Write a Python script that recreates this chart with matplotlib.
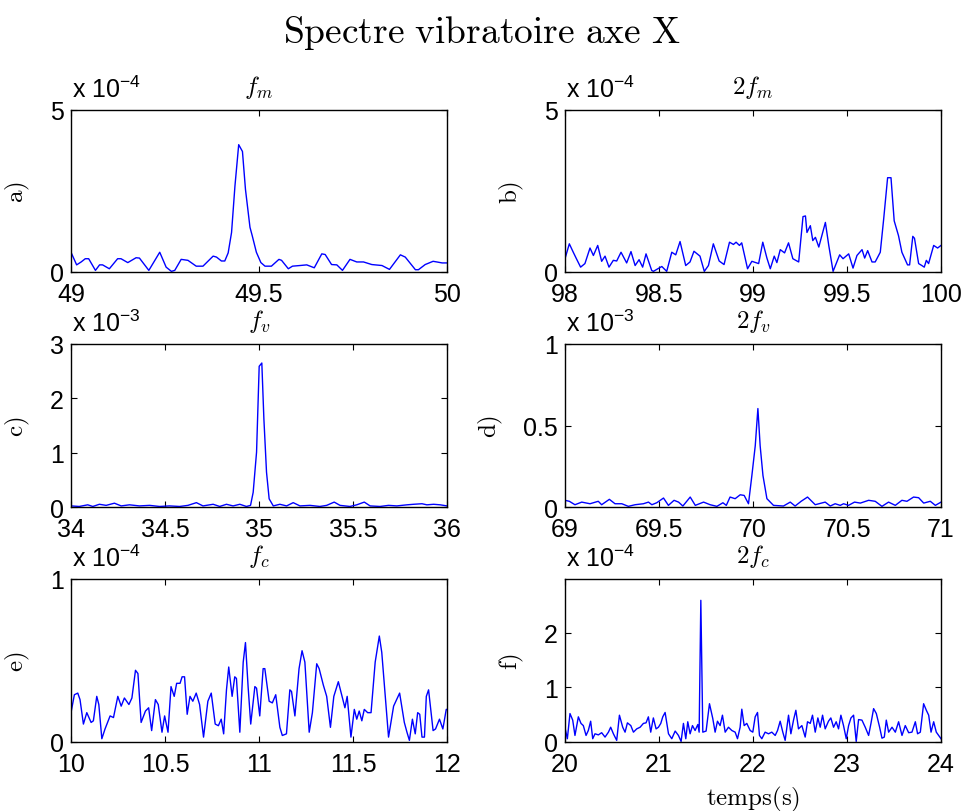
import matplotlib
matplotlib.use("Agg")
import matplotlib.pyplot as plt
from matplotlib.ticker import FormatStrFormatter

plt.rcParams['font.family'] = ['Liberation Sans', 'DejaVu Sans']

# spectrum values (y in units of 10^exp)
a_x = [49.000, 49.015, 49.027, 49.038, 49.047, 49.065, 49.076, 49.084, 49.102, 49.124,
       49.133, 49.151, 49.173, 49.182, 49.207, 49.236, 49.253, 49.267, 49.276, 49.293,
       49.311, 49.333, 49.351, 49.378, 49.387, 49.400, 49.409, 49.418, 49.427, 49.436,
       49.446, 49.456, 49.464, 49.476, 49.482, 49.493, 49.505, 49.516, 49.533, 49.553,
       49.560, 49.578, 49.589, 49.609, 49.627, 49.647, 49.667, 49.676, 49.693, 49.707,
       49.722, 49.742, 49.760, 49.778, 49.800, 49.827, 49.847, 49.876, 49.889, 49.916,
       49.924, 49.942, 49.963, 49.973, 49.987, 50.000]
a_y = [0.61, 0.22, 0.31, 0.41, 0.41, 0.05, 0.22, 0.22, 0.10, 0.41,
       0.41, 0.29, 0.44, 0.43, 0.05, 0.61, 0.15, 0.02, 0.05, 0.39,
       0.36, 0.18, 0.18, 0.49, 0.46, 0.34, 0.34, 0.59, 1.22, 2.65,
       3.93, 3.72, 2.55, 1.38, 1.12, 0.61, 0.29, 0.18, 0.18, 0.39,
       0.36, 0.10, 0.18, 0.20, 0.22, 0.13, 0.56, 0.54, 0.23, 0.22,
       0.05, 0.39, 0.31, 0.31, 0.23, 0.20, 0.08, 0.53, 0.46, 0.07,
       0.07, 0.23, 0.33, 0.31, 0.28, 0.28]

b_x = [98.000, 98.023, 98.044, 98.059, 98.083, 98.106, 98.133, 98.151, 98.174, 98.195,
       98.213, 98.234, 98.257, 98.275, 98.298, 98.328, 98.351, 98.373, 98.394, 98.413,
       98.431, 98.461, 98.470, 98.515, 98.541, 98.568, 98.589, 98.612, 98.642, 98.665,
       98.686, 98.718, 98.741, 98.763, 98.789, 98.820, 98.846, 98.875, 98.896, 98.910,
       98.928, 98.940, 98.971, 98.994, 99.030, 99.052, 99.074, 99.092, 99.113, 99.127,
       99.145, 99.168, 99.189, 99.212, 99.243, 99.266, 99.279, 99.287, 99.305, 99.318,
       99.332, 99.350, 99.385, 99.403, 99.426, 99.461, 99.479, 99.509, 99.532, 99.553,
       99.580, 99.594, 99.610, 99.633, 99.650, 99.677, 99.695, 99.716, 99.734, 99.751,
       99.774, 99.792, 99.822, 99.833, 99.850, 99.859, 99.881, 99.898, 99.911, 99.922,
       99.934, 99.961, 99.982, 100.000]
b_y = [0.41, 0.87, 0.61, 0.43, 0.15, 0.26, 0.74, 0.51, 0.82, 0.33,
       0.49, 0.15, 0.36, 0.34, 0.61, 0.28, 0.63, 0.20, 0.38, 0.15,
       0.56, 0.05, 0.02, 0.17, 0.02, 0.61, 0.53, 0.94, 0.20, 0.31,
       0.64, 0.49, 0.02, 0.20, 0.87, 0.34, 0.23, 0.92, 0.85, 0.92,
       0.82, 0.90, 0.10, 0.33, 0.26, 0.92, 0.43, 0.10, 0.49, 0.29,
       0.69, 0.59, 0.90, 0.41, 0.31, 1.71, 1.73, 1.22, 1.43, 0.97,
       1.07, 0.77, 1.53, 0.82, 0.02, 0.53, 0.41, 0.56, 0.12, 0.51,
       0.69, 0.43, 0.66, 0.31, 0.31, 0.61, 1.63, 2.91, 2.91, 1.58,
       1.12, 0.61, 0.22, 0.22, 1.10, 1.04, 0.26, 0.20, 0.15, 0.36,
       0.26, 0.82, 0.74, 0.82]

c_x = [34.000, 34.044, 34.089, 34.116, 34.151, 34.187, 34.231, 34.267, 34.311, 34.364,
       34.418, 34.471, 34.524, 34.578, 34.622, 34.667, 34.702, 34.756, 34.791, 34.827,
       34.862, 34.898, 34.933, 34.955, 34.969, 34.987, 35.001, 35.015, 35.026, 35.040,
       35.054, 35.076, 35.111, 35.147, 35.182, 35.218, 35.271, 35.324, 35.360, 35.400,
       35.431, 35.484, 35.520, 35.560, 35.591, 35.644, 35.689, 35.733, 35.787, 35.822,
       35.867, 35.893, 35.929, 35.964, 36.000]
c_y = [0.02, 0.01, 0.04, 0.01, 0.05, 0.03, 0.07, 0.02, 0.04, 0.02,
       0.03, 0.01, 0.02, 0.01, 0.03, 0.08, 0.02, 0.05, 0.01, 0.05,
       0.02, 0.05, 0.01, 0.03, 0.27, 1.01, 2.59, 2.65, 1.62, 0.64,
       0.15, 0.02, 0.05, 0.02, 0.08, 0.02, 0.03, 0.01, 0.03, 0.09,
       0.03, 0.01, 0.04, 0.09, 0.02, 0.01, 0.03, 0.02, 0.04, 0.05,
       0.06, 0.04, 0.05, 0.04, 0.02]

d_x = [69.000, 69.023, 69.053, 69.089, 69.133, 69.177, 69.195, 69.236, 69.266, 69.302,
       69.337, 69.373, 69.417, 69.444, 69.462, 69.488, 69.524, 69.550, 69.580, 69.604,
       69.627, 69.666, 69.693, 69.737, 69.772, 69.808, 69.840, 69.858, 69.878, 69.905,
       69.932, 69.953, 69.976, 69.994, 70.012, 70.026, 70.038, 70.053, 70.074, 70.109,
       70.162, 70.198, 70.224, 70.256, 70.290, 70.331, 70.384, 70.411, 70.437, 70.464,
       70.482, 70.508, 70.540, 70.571, 70.615, 70.650, 70.686, 70.721, 70.757, 70.792,
       70.819, 70.854, 70.881, 70.908, 70.943, 70.970, 71.000]
d_y = [0.041, 0.035, 0.014, 0.030, 0.020, 0.035, 0.014, 0.047, 0.020, 0.020,
       0.004, 0.014, 0.020, 0.030, 0.014, 0.026, 0.055, 0.010, 0.041, 0.030,
       0.006, 0.061, 0.010, 0.030, 0.014, 0.004, 0.026, 0.010, 0.061, 0.051,
       0.075, 0.071, 0.020, 0.193, 0.376, 0.604, 0.376, 0.193, 0.051, 0.010,
       0.006, 0.030, 0.006, 0.035, 0.061, 0.014, 0.030, 0.006, 0.020, 0.010,
       0.020, 0.010, 0.030, 0.024, 0.041, 0.035, 0.004, 0.030, 0.010, 0.041,
       0.035, 0.061, 0.057, 0.024, 0.035, 0.010, 0.030]

e_x = [10.000, 10.018, 10.036, 10.048, 10.066, 10.084, 10.107, 10.119, 10.137, 10.148,
       10.164, 10.181, 10.208, 10.226, 10.249, 10.267, 10.284, 10.308, 10.324, 10.343,
       10.356, 10.373, 10.396, 10.413, 10.429, 10.449, 10.464, 10.484, 10.498, 10.516,
       10.532, 10.549, 10.562, 10.580, 10.591, 10.604, 10.618, 10.633, 10.648, 10.666,
       10.684, 10.705, 10.728, 10.746, 10.767, 10.784, 10.799, 10.812, 10.827, 10.839,
       10.857, 10.871, 10.880, 10.898, 10.916, 10.928, 10.942, 10.956, 10.978, 10.987,
       11.004, 11.022, 11.031, 11.054, 11.071, 11.089, 11.111, 11.124, 11.146, 11.164,
       11.173, 11.191, 11.213, 11.229, 11.244, 11.267, 11.284, 11.307, 11.320, 11.342,
       11.360, 11.380, 11.398, 11.422, 11.444, 11.457, 11.469, 11.489, 11.507, 11.520,
       11.533, 11.547, 11.560, 11.578, 11.596, 11.618, 11.640, 11.653, 11.689, 11.716,
       11.748, 11.773, 11.787, 11.800, 11.816, 11.831, 11.844, 11.855, 11.867, 11.880,
       11.890, 11.902, 11.926, 11.939, 11.960, 11.978, 11.996, 12.000]
e_y = [0.18, 0.29, 0.30, 0.26, 0.11, 0.18, 0.12, 0.13, 0.28, 0.23,
       0.02, 0.08, 0.16, 0.15, 0.28, 0.22, 0.27, 0.23, 0.27, 0.44,
       0.42, 0.12, 0.19, 0.21, 0.07, 0.26, 0.23, 0.06, 0.16, 0.06,
       0.34, 0.28, 0.36, 0.36, 0.40, 0.40, 0.17, 0.28, 0.25, 0.30,
       0.23, 0.03, 0.25, 0.30, 0.11, 0.10, 0.14, 0.05, 0.32, 0.46,
       0.28, 0.40, 0.39, 0.06, 0.49, 0.61, 0.34, 0.11, 0.34, 0.33,
       0.16, 0.45, 0.45, 0.25, 0.24, 0.29, 0.09, 0.04, 0.05, 0.32,
       0.31, 0.16, 0.45, 0.56, 0.49, 0.06, 0.18, 0.48, 0.45, 0.35,
       0.28, 0.09, 0.28, 0.37, 0.27, 0.21, 0.28, 0.03, 0.20, 0.14,
       0.19, 0.13, 0.20, 0.18, 0.18, 0.49, 0.65, 0.55, 0.03, 0.22,
       0.30, 0.12, 0.06, 0.01, 0.14, 0.05, 0.18, 0.17, 0.03, 0.03,
       0.28, 0.32, 0.07, 0.08, 0.14, 0.08, 0.20, 0.20]

f_x = [20.000, 20.025, 20.053, 20.082, 20.106, 20.142, 20.170, 20.195, 20.224, 20.248,
       20.273, 20.295, 20.319, 20.355, 20.390, 20.426, 20.462, 20.486, 20.515, 20.550,
       20.579, 20.614, 20.639, 20.664, 20.700, 20.728, 20.763, 20.799, 20.834, 20.862,
       20.887, 20.912, 20.940, 20.969, 20.994, 21.019, 21.040, 21.065, 21.101, 21.136,
       21.172, 21.207, 21.235, 21.260, 21.285, 21.306, 21.331, 21.356, 21.384, 21.413,
       21.427, 21.445, 21.466, 21.501, 21.537, 21.572, 21.597, 21.622, 21.650, 21.675,
       21.704, 21.739, 21.775, 21.810, 21.835, 21.863, 21.881, 21.906, 21.934, 21.970,
       21.998, 22.023, 22.048, 22.069, 22.094, 22.129, 22.165, 22.200, 22.236, 22.261,
       22.289, 22.317, 22.342, 22.378, 22.403, 22.431, 22.456, 22.484, 22.520, 22.555,
       22.580, 22.609, 22.633, 22.662, 22.690, 22.715, 22.740, 22.768, 22.803, 22.828,
       22.857, 22.885, 22.910, 22.935, 22.963, 22.992, 23.017, 23.042, 23.070, 23.098,
       23.123, 23.159, 23.194, 23.230, 23.255, 23.283, 23.312, 23.347, 23.372, 23.397,
       23.418, 23.443, 23.479, 23.514, 23.549, 23.585, 23.620, 23.656, 23.691, 23.727,
       23.751, 23.780, 23.815, 23.844, 23.869, 23.894, 23.922, 23.950, 23.975, 24.000]
f_y = [0.26, 0.06, 0.52, 0.40, 0.12, 0.46, 0.34, 0.30, 0.12, 0.21,
       0.38, 0.06, 0.15, 0.13, 0.17, 0.09, 0.18, 0.27, 0.15, 0.03,
       0.49, 0.27, 0.18, 0.35, 0.30, 0.18, 0.24, 0.27, 0.34, 0.35,
       0.46, 0.18, 0.44, 0.24, 0.27, 0.34, 0.46, 0.54, 0.15, 0.06,
       0.20, 0.12, 0.01, 0.34, 0.06, 0.37, 0.15, 0.30, 0.21, 0.32,
       0.18, 2.59, 0.18, 0.20, 0.70, 0.43, 0.18, 0.38, 0.30, 0.49,
       0.18, 0.27, 0.21, 0.18, 0.06, 0.27, 0.60, 0.30, 0.34, 0.21,
       0.18, 0.46, 0.54, 0.12, 0.06, 0.18, 0.15, 0.18, 0.12, 0.21,
       0.38, 0.18, 0.03, 0.49, 0.15, 0.40, 0.58, 0.24, 0.30, 0.09,
       0.37, 0.34, 0.49, 0.18, 0.44, 0.27, 0.49, 0.24, 0.38, 0.44,
       0.27, 0.37, 0.24, 0.49, 0.30, 0.06, 0.30, 0.44, 0.49, 0.01,
       0.41, 0.40, 0.27, 0.12, 0.34, 0.61, 0.52, 0.27, 0.07, 0.09,
       0.40, 0.18, 0.27, 0.18, 0.37, 0.12, 0.30, 0.17, 0.18, 0.37,
       0.15, 0.18, 0.70, 0.58, 0.49, 0.18, 0.37, 0.18, 0.12, 0.06]

panels = [
    # x, y, exponent, title, label, xlim, xticks, ylim, yticks
    (a_x, a_y, -4, r'$f_m$', 'a)', (49, 50), [49, 49.5, 50], (0, 5), [0, 5]),
    (b_x, b_y, -4, r'$2f_m$', 'b)', (98, 100), [98, 98.5, 99, 99.5, 100], (0, 5), [0, 5]),
    (c_x, c_y, -3, r'$f_v$', 'c)', (34, 36), [34, 34.5, 35, 35.5, 36], (0, 3), [0, 1, 2, 3]),
    (d_x, d_y, -3, r'$2f_v$', 'd)', (69, 71), [69, 69.5, 70, 70.5, 71], (0, 1), [0, 0.5, 1]),
    (e_x, e_y, -4, r'$f_c$', 'e)', (10, 12), [10, 10.5, 11, 11.5, 12], (0, 1), [0, 1]),
    (f_x, f_y, -4, r'$2f_c$', 'f)', (20, 24), [20, 21, 22, 23, 24], (0, 2.98), [0, 1, 2]),
]

W, H = 963, 812
fig = plt.figure(figsize=(W / 100, H / 100), dpi=100)

lefts = [71, 565]
tops = [111, 345, 580]
bottoms = [273, 508, 743]

for i, (x, y, ex, title, lab, xl, xt, yl, yt) in enumerate(panels):
    row, col = i // 2, i % 2
    ax = fig.add_axes([lefts[col] / W, 1 - bottoms[row] / H,
                       376 / W, (bottoms[row] - tops[row]) / H])
    ax.plot(x, y, color='#0000ff', lw=1.0)
    ax.set_xlim(*xl)
    ax.set_ylim(*yl)
    ax.set_xticks(xt)
    ax.set_yticks(yt)
    ax.xaxis.set_major_formatter(FormatStrFormatter('%g'))
    ax.yaxis.set_major_formatter(FormatStrFormatter('%g'))
    ax.tick_params(direction='in', top=True, right=True, length=4, width=0.8,
                   labelsize=18, pad=5)
    ax.tick_params(axis='x', pad=7)
    for s in ax.spines.values():
        s.set_linewidth(1.0)
    ax.set_title(title, fontsize=18, pad=12, math_fontfamily='cm')
    # label sits left of the tick labels, like MATLAB does
    ax.set_ylabel(r'$\mathrm{' + lab + '}$', fontsize=18, math_fontfamily='cm',
                  labelpad=13)
    ax.annotate(r'x 10$^{\mathregular{%d}}$' % ex, xy=(0, 1), xycoords='axes fraction',
                xytext=(0.5, 9), textcoords='offset points', ha='left', va='baseline',
                fontsize=18, math_fontfamily='dejavusans')
    if i == 5:
        ax.set_xlabel(r'$\mathrm{temps(s)}$', fontsize=18, math_fontfamily='cm', labelpad=6)

fig.text(0.5, 1 - 43 / H, r'$\mathrm{Spectre\ vibratoire\ axe\ X}$', ha='center',
         va='baseline', fontsize=27, math_fontfamily='cm')

fig.savefig('out.png', dpi=100)
